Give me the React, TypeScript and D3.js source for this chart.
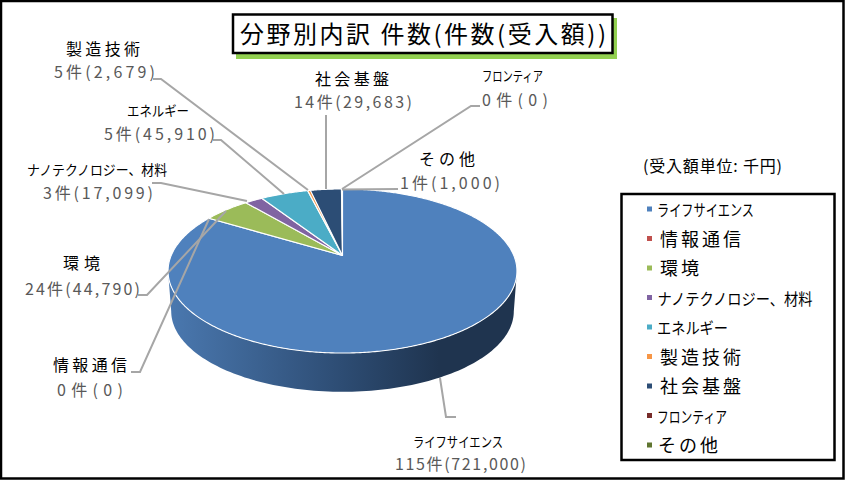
import React from "react";
import * as d3 from "d3";

const categories = ["ライフサイエンス", "情報通信", "環境", "ナノテクノロジー、材料", "エネルギー", "製造技術", "社会基盤", "フロンティア", "その他"];
const counts = [115, 0, 24, 3, 5, 5, 14, 0, 1];
const amounts = [721000, 0, 44790, 17099, 45910, 2679, 29683, 0, 1000];
const colors = ["#4f81bd", "#c0504d", "#9bbb59", "#8064a2", "#4bacc6", "#f79646", "#2c4d75", "#772c2a", "#5f7530"];
const titleText = "分野別内訳 件数(件数(受入額))";
const unitText = "(受入額単位: 千円)";

type Label = { x0: number; w0: number; y0: number; s0: number; x1: number; w1: number; y1: number; line: [number, number][] };
const labelLayout: Label[] = [
  { x0: 413, w0: 90, y0: 447, s0: 14, x1: 395, w1: 131, y1: 470, line: [[440, 378], [446, 417], [456, 417]] },
  { x0: 53, w0: 74, y0: 371, s0: 16, x1: 57, w1: 66, y1: 396, line: [[131, 372], [140, 372], [209, 219]] },
  { x0: 63, w0: 37, y0: 269, s0: 16, x1: 25, w1: 115, y1: 295, line: [[138, 295], [147, 295], [226, 211]] },
  { x0: 27, w0: 140, y0: 175, s0: 14, x1: 43, w1: 110, y1: 199, line: [[152, 183], [161, 183], [247, 201]] },
  { x0: 127, w0: 62, y0: 116, s0: 14, x1: 104, w1: 111, y1: 140, line: [[213, 140], [221, 140], [284, 194]] },
  { x0: 66, w0: 74, y0: 55, s0: 16, x1: 54, w1: 101, y1: 78, line: [[153, 79], [161, 79], [308, 190]] },
  { x0: 315, w0: 74, y0: 85, s0: 16, x1: 294, w1: 118, y1: 108, line: [[326, 115], [326, 189]] },
  { x0: 482, w0: 61, y0: 81, s0: 14, x1: 482, w1: 66, y1: 106, line: [[480, 106], [471, 106], [342, 189]] },
  { x0: 419, w0: 56, y0: 165, s0: 16, x1: 400, w1: 100, y1: 189, line: [[398, 189], [342, 189.5]] },
];
const legendWidths = [97, 81, 39, 155, 71, 81, 81, 70, 60];
const legendX = [657, 660, 660, 657.5, 657, 660, 660, 657, 658];
const legendSizes = [16, 18, 18, 16, 16, 18, 18, 16, 18];

const FONT = "'Noto Sans CJK JP', sans-serif";

// perspective projection of the pie's disc onto the screen
const apexX = 342.5, apexY = 255.5, A = 171.3, B = 79.1, K = 0.189;
const project = (t: number, r = 1, scale = 1, dy = 0): [number, number] => {
  const u = Math.sin(t) * r, v = Math.cos(t) * r, w = 1 + K * v;
  return [apexX + (A * scale * u) / w, apexY + dy + (B * scale * v) / -w];
};

const line = d3.line<[number, number]>();
const pie = d3.pie<number>().sort(null).startAngle(0).endAngle(2 * Math.PI);
const arcs = pie(amounts);

const slicePath = (s: number, e: number) => {
  const n = Math.max(2, Math.ceil((e - s) / 0.01));
  const angle = d3.scaleLinear().domain([0, n]).range([s, e]);
  const pts: [number, number][] = [[apexX, apexY]];
  d3.range(n + 1).forEach((i) => pts.push(project(angle(i))));
  return line(pts) + "Z";
};

// the visible lower wall: front half of the top rim to the front half of the base rim
const wallPath = () => {
  const start = (Math.PI * 2) / 4 + 0.19;
  const end = Math.PI * 1.5 - 0.19;
  const angle = d3.scaleLinear().domain([0, 120]).range([start, end]);
  const top = d3.range(121).map((i) => project(angle(i)));
  const bottom = d3.range(121).map((i) => project(angle(i), 1, 0.982, 40.5)).reverse();
  return line([...top, ...bottom]) + "Z";
};

export default function App() {
  const fmt = d3.format(",");
  return (
    <svg width={845} height={480} style={{ position: "absolute", left: 0, top: 0, fontFamily: FONT }}>
      <defs>
        <linearGradient id="wall" gradientUnits="userSpaceOnUse" x1={170} x2={515} y1={0} y2={0}>
          <stop offset="0" stopColor="#4a78af" />
          <stop offset="0.5" stopColor="#2d4c73" />
          <stop offset="0.78" stopColor="#1f344f" />
          <stop offset="1" stopColor="#1f344f" />
        </linearGradient>
      </defs>
      <rect x={1} y={1} width={842.5} height={477.5} fill="#fff" stroke="#000" strokeWidth={2.5} />

      <rect x={236} y={18} width={381} height={41} fill="#92d050" />
      <rect x={233} y={14.5} width={379.5} height={38.5} fill="#fff" stroke="#000" strokeWidth={2.5} />
      <text x={240} y={43} fontSize={24} textLength={366} lengthAdjust="spacing" fill="#000">{titleText}</text>

      <path d={wallPath()} fill="url(#wall)" />
      {arcs.map((a, i) =>
        a.value > 0 ? (
          <path key={i} d={slicePath(a.startAngle, a.endAngle)} fill={colors[i]} stroke="#fff" strokeWidth={1.1} strokeLinejoin="round" />
        ) : null
      )}

      {labelLayout.map((l, i) => (
        <path key={i} d={line(l.line) as string} fill="none" stroke="#a6a6a6" strokeWidth={2} />
      ))}
      {labelLayout.map((l, i) => (
        <g key={i}>
          <text x={l.x0} y={l.y0} fontSize={l.s0} textLength={l.w0} lengthAdjust={l.s0 === 14 ? "spacingAndGlyphs" : "spacing"} fill="#000">
            {categories[i]}
          </text>
          <text x={l.x1} y={l.y1} fontSize={16} textLength={l.w1} lengthAdjust="spacing" fill="#595959">
            {`${counts[i]}件(${fmt(amounts[i])})`}
          </text>
        </g>
      ))}

      <text x={643} y={172} fontSize={16} textLength={139} lengthAdjust="spacing" fill="#000">{unitText}</text>

      <rect x={621.5} y={194} width={213} height={266} fill="#fff" stroke="#000" strokeWidth={2.5} />
      {categories.map((c, i) => (
        <g key={c}>
          <rect x={647} y={206.5 + i * 29.5} width={5} height={5} fill={colors[i]} />
          <text x={legendX[i]} y={216 + i * 29.5} fontSize={legendSizes[i]} textLength={legendWidths[i]} lengthAdjust={legendSizes[i] === 16 ? "spacingAndGlyphs" : "spacing"} fill="#000">
            {c}
          </text>
        </g>
      ))}
    </svg>
  );
}
